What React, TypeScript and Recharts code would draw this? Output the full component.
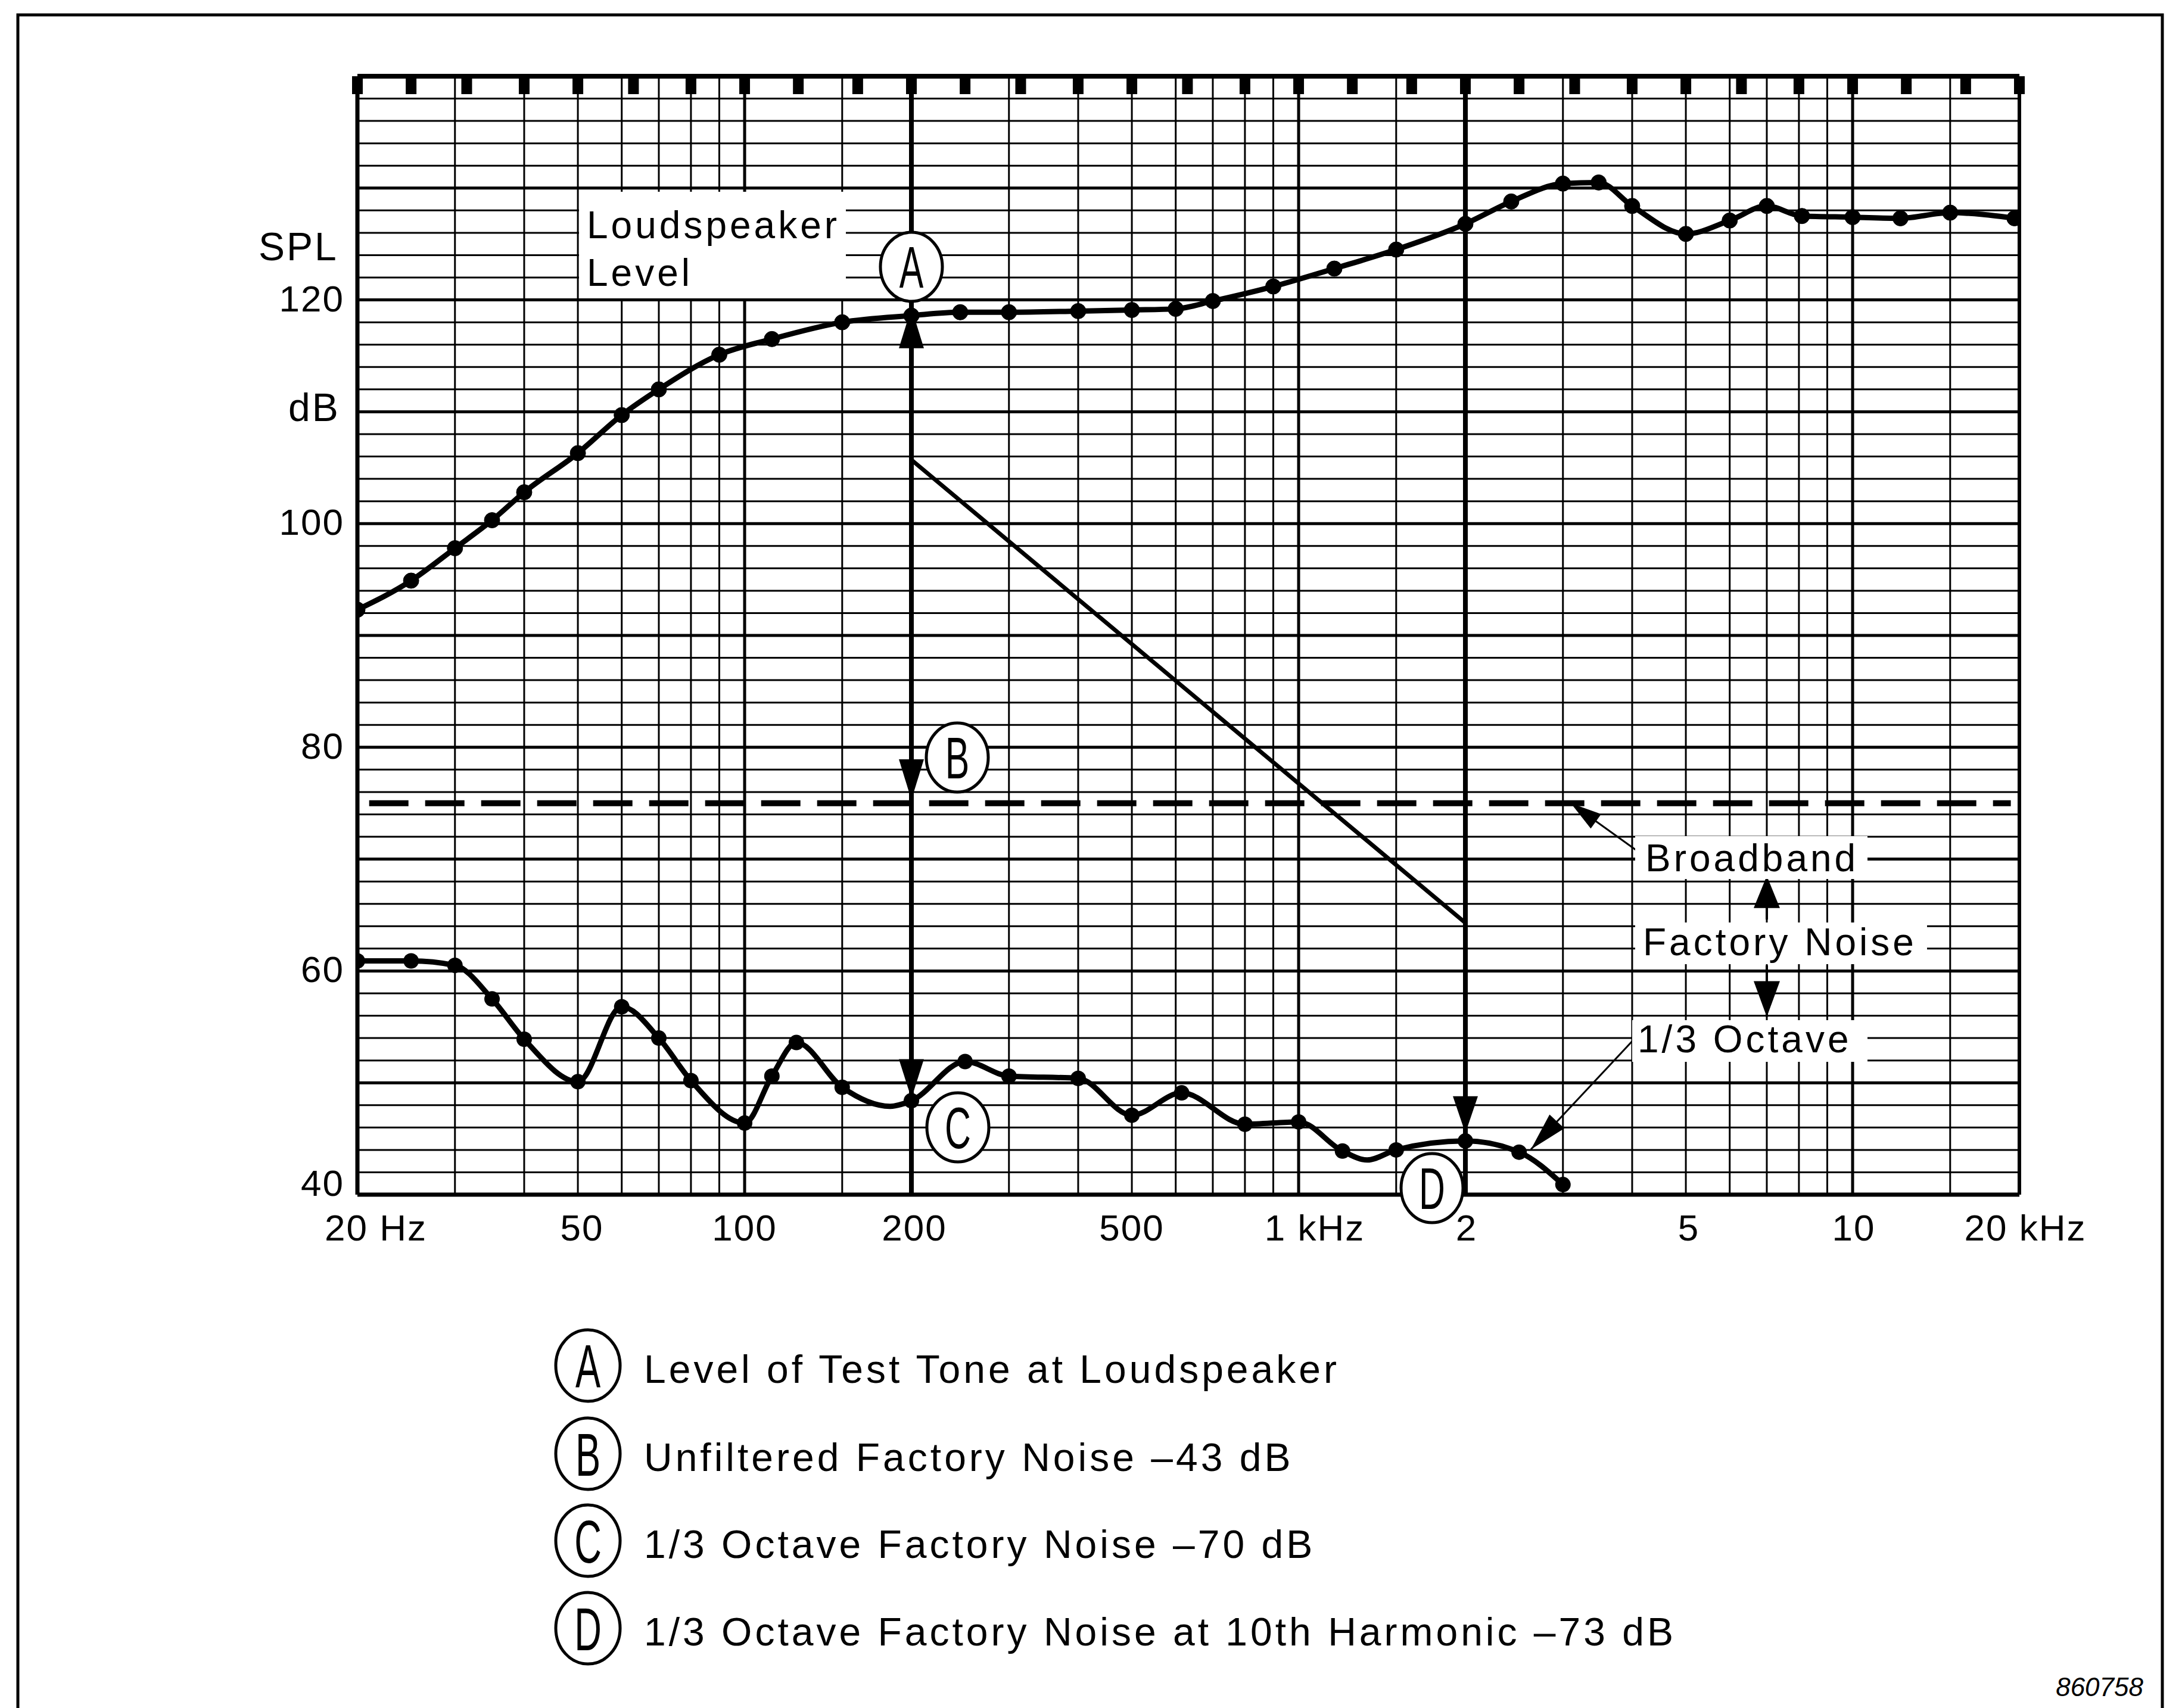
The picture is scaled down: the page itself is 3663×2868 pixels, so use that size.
import React from "react";
import { LineChart, Line, XAxis, YAxis, ReferenceLine } from "recharts";

const W = 3663;
const H = 2868;
const FONT = '"Liberation Sans", Arial, Helvetica, sans-serif';
const INK = "#000";

// loudspeaker level (upper trace), Hz / dB SPL
const speakerFreq = [20, 25, 30, 35, 40, 50, 60, 70, 90, 112, 150, 200, 245, 300, 400, 500, 600, 700, 900, 1160, 1500, 2000, 2420, 3000, 3480, 4000, 5000, 6000, 7000, 8100, 10000, 12200, 15000, 19600];
const speakerLevel = [92.3, 94.9, 97.8, 100.3, 102.8, 106.3, 109.7, 112.0, 115.1, 116.5, 118.0, 118.6, 118.9, 118.9, 119.0, 119.1, 119.2, 119.9, 121.2, 122.8, 124.5, 126.8, 128.8, 130.4, 130.5, 128.4, 125.9, 127.1, 128.4, 127.5, 127.4, 127.3, 127.8, 127.3];

// 1/3 octave factory noise (lower trace); false = bend of the trace with no dot
const noiseFreq = [20, 25, 30, 35, 40, 50, 60, 70, 80, 100, 112, 124, 150, 183, 200, 250, 300, 400, 500, 615, 800, 1000, 1200, 1330, 1500, 2000, 2500, 3000];
const noiseLevel = [60.9, 60.9, 60.5, 57.5, 53.9, 50.1, 56.8, 54.0, 50.2, 46.4, 50.6, 53.6, 49.6, 47.9, 48.4, 51.9, 50.6, 50.4, 47.1, 49.1, 46.3, 46.5, 43.9, 43.1, 44.0, 44.8, 43.8, 40.9];
const noiseMarked = [true, true, true, true, true, true, true, true, true, true, true, true, true, false, true, true, true, true, true, true, true, true, true, false, true, true, true, true];

// broadband factory noise (dashed)
const broadbandLevel = 75;
const broadbandFreq = [21, 19300];

// test tone arrows at 200 Hz: tips at A, B, C
const toneFreq = 200;
const toneTips = [119.3, 75.3, 48.6];

// sloped line to the 10th harmonic, then arrow down to D
const harmonicFreq = [200, 2000];
const harmonicLevel = [105.7, 64.3];
const harmonicTip = 45.5;

// pointer arrows of the side notes: [freq, dB] tail -> tip
const broadbandPointer = [[4120, 70.6], [3100, 75.0]];
const octavePointer = [[4050, 54.0], [2626, 44.05]];
const factoryFreq = 7000;
const factoryUp = [64.6, 68.5];
const factoryDown = [60.5, 55.9];

const xTicks = [20, 50, 100, 200, 500, 1000, 2000, 5000, 10000, 20000];
const xTickLabels = ["20 Hz", "50", "100", "200", "500", "1 kHz", "2", "5", "10", "20 kHz"];
const xTickShift = [31, 7, 0, 5, 0, 27, 2, 5, 2, 10];
const yTicks = [40, 60, 80, 100, 120];

const gridDb = Array.from({ length: 49 }, (_, i) => 42 + i * 2);
const gridFreq = [30, 40, 50, 60, 70, 80, 90, 100, 150, 200, 300, 400, 500, 600, 700, 800, 900, 1000, 1500, 2000, 3000, 4000, 5000, 6000, 7000, 8000, 9000, 10000, 15000];
const thirdOctaves = [20, 25, 31.5, 40, 50, 63, 80, 100, 125, 160, 200, 250, 315, 400, 500, 630, 800, 1000, 1250, 1600, 2000, 2500, 3150, 4000, 5000, 6300, 8000, 10000, 12500, 16000, 20000];

const legendRows = [
  ["A", "Level of Test Tone at Loudspeaker"],
  ["B", "Unfiltered Factory Noise \u201343 dB"],
  ["C", "1/3 Octave Factory Noise \u201370 dB"],
  ["D", "1/3 Octave Factory Noise at 10th Harmonic \u201373 dB"],
];

type ArrowOpts = { width: number; head?: number; half?: number; start?: boolean; end?: boolean };

const arrow = (o: ArrowOpts) => (p: any) => {
  const { x1, y1, x2, y2 } = p;
  const dx = x2 - x1;
  const dy = y2 - y1;
  const len = Math.hypot(dx, dy) || 1;
  const ux = dx / len;
  const uy = dy / len;
  const head = (tx: number, ty: number, sx: number, sy: number) => {
    const bx = tx - sx * (o.head || 0);
    const by = ty - sy * (o.head || 0);
    const nx = -sy * (o.half || 0);
    const ny = sx * (o.half || 0);
    return `${tx},${ty} ${bx + nx},${by + ny} ${bx - nx},${by - ny}`;
  };
  return (
    <g>
      <line x1={x1} y1={y1} x2={x2} y2={y2} stroke={INK} strokeWidth={o.width} />
      {o.end && <polygon points={head(x2, y2, ux, uy)} fill={INK} />}
      {o.start && <polygon points={head(x1, y1, -ux, -uy)} fill={INK} />}
    </g>
  );
};

function XTick(props: any) {
  const { x, payload } = props;
  const i = xTicks.indexOf(payload.value);
  return (
    <text x={x + (xTickShift[i] || 0)} y={2083} textAnchor="middle" fontFamily={FONT} fontSize={62} letterSpacing={2} fill={INK}>
      {xTickLabels[i]}
    </text>
  );
}

function YTick(props: any) {
  const { y, payload } = props;
  const lift = payload.value === yTicks[0] ? 2 : 19;
  return (
    <text x={578} y={y + lift} textAnchor="end" fontFamily={FONT} fontSize={62} letterSpacing={2} fill={INK}>
      {payload.value}
    </text>
  );
}

function Circled({ cx, cy, letter, rx = 52, ry = 58, fs = 98 }: any) {
  return (
    <g>
      <ellipse cx={cx} cy={cy} rx={rx} ry={ry} fill="#fff" stroke={INK} strokeWidth={5} />
      <text transform={`translate(${cx} ${cy + fs * 0.36}) scale(0.62 1)`} textAnchor="middle" fontFamily={FONT} fontSize={fs} fill={INK}>
        {letter}
      </text>
    </g>
  );
}

function Note({ x, y, w, h }: any) {
  return <rect x={x} y={y} width={w} height={h} fill="#fff" />;
}

export default function App() {
  const speakerData = speakerFreq.map((f, i) => ({ f, db: speakerLevel[i] }));
  const noiseData = noiseFreq.map((f, i) => ({ f, db: noiseLevel[i], mark: noiseMarked[i] }));
  const harmonicData = harmonicFreq.map((f, i) => ({ f, db: harmonicLevel[i] }));
  const txt = { fontFamily: FONT, fontSize: 64, letterSpacing: 5, fill: INK };

  return (
    <div style={{ position: "absolute", left: 0, top: 0, width: W, height: H, background: "#fff", overflow: "hidden" }}>
      <LineChart width={W} height={H} margin={{ top: 128, right: 273, bottom: 802, left: 0 }}>
        <XAxis
          type="number"
          dataKey="f"
          scale="log"
          domain={[20, 20000]}
          ticks={xTicks}
          interval={0}
          allowDataOverflow
          axisLine={false}
          tickLine={false}
          height={60}
          tick={(p: any) => <XTick {...p} />}
        />
        <YAxis
          type="number"
          domain={[40, 140]}
          ticks={yTicks}
          interval={0}
          allowDataOverflow
          axisLine={false}
          tickLine={false}
          width={600}
          tick={(p: any) => <YTick {...p} />}
        />

        {gridDb.map((v) => (
          <ReferenceLine key={`h${v}`} y={v} stroke={INK} strokeWidth={v % 10 === 0 ? 5 : 3} />
        ))}
        {gridFreq.map((f) => (
          <ReferenceLine
            key={`v${f}`}
            x={f}
            stroke={INK}
            strokeWidth={f === 200 || f === 2000 ? 8 : f === 100 || f === 1000 || f === 10000 ? 5 : 3}
          />
        ))}
        <ReferenceLine x={20} stroke={INK} strokeWidth={7} />
        <ReferenceLine x={20000} stroke={INK} strokeWidth={6} />
        <ReferenceLine y={40} stroke={INK} strokeWidth={7} />
        <ReferenceLine y={140} stroke={INK} strokeWidth={8} />
        {thirdOctaves.map((f) => (
          <ReferenceLine key={`t${f}`} segment={[{ x: f, y: 140 }, { x: f, y: 138.4 }]} stroke={INK} strokeWidth={18} />
        ))}

        <ReferenceLine
          segment={[{ x: broadbandFreq[0], y: broadbandLevel }, { x: broadbandFreq[1], y: broadbandLevel }]}
          stroke={INK}
          strokeWidth={10}
          strokeDasharray="66 28"
        />

        <ReferenceLine
          segment={[{ x: toneFreq, y: toneTips[1] }, { x: toneFreq, y: toneTips[0] }]}
          shape={arrow({ width: 8, head: 68, half: 21, start: true, end: true })}
        />
        <ReferenceLine
          segment={[{ x: toneFreq, y: toneTips[1] }, { x: toneFreq, y: toneTips[2] }]}
          shape={arrow({ width: 8, head: 66, half: 21, end: true })}
        />
        <ReferenceLine
          segment={[{ x: harmonicFreq[1], y: harmonicLevel[1] }, { x: harmonicFreq[1], y: harmonicTip }]}
          shape={arrow({ width: 8, head: 62, half: 21, end: true })}
        />
        <ReferenceLine
          segment={[{ x: broadbandPointer[0][0], y: broadbandPointer[0][1] }, { x: broadbandPointer[1][0], y: broadbandPointer[1][1] }]}
          shape={arrow({ width: 3, head: 52, half: 15, end: true })}
        />
        <ReferenceLine
          segment={[{ x: octavePointer[0][0], y: octavePointer[0][1] }, { x: octavePointer[1][0], y: octavePointer[1][1] }]}
          shape={arrow({ width: 3, head: 64, half: 17, end: true })}
        />
        <ReferenceLine
          segment={[{ x: factoryFreq, y: factoryUp[0] }, { x: factoryFreq, y: factoryUp[1] }]}
          shape={arrow({ width: 4, head: 54, half: 22, end: true })}
        />
        <ReferenceLine
          segment={[{ x: factoryFreq, y: factoryDown[0] }, { x: factoryFreq, y: factoryDown[1] }]}
          shape={arrow({ width: 4, head: 60, half: 22, end: true })}
        />

        <Line
          data={harmonicData}
          dataKey="db"
          type="linear"
          stroke={INK}
          strokeWidth={7}
          dot={false}
          activeDot={false}
          isAnimationActive={false}
        />
        <Line
          data={speakerData}
          dataKey="db"
          type="monotone"
          stroke={INK}
          strokeWidth={9}
          dot={{ r: 13, fill: INK, stroke: INK, strokeWidth: 1 }}
          activeDot={false}
          isAnimationActive={false}
        />
        <Line
          data={noiseData}
          dataKey="db"
          type="monotone"
          stroke={INK}
          strokeWidth={9}
          dot={(p: any) =>
            p.payload && p.payload.mark ? (
              <circle key={`nd${p.index}`} cx={p.cx} cy={p.cy} r={13} fill={INK} />
            ) : (
              <g key={`nd${p.index}`} />
            )
          }
          activeDot={false}
          isAnimationActive={false}
        />
      </LineChart>

      <svg width={W} height={H} style={{ position: "absolute", left: 0, top: 0, pointerEvents: "none" }}>
        <rect x={30} y={25} width={3600} height={2900} fill="none" stroke={INK} strokeWidth={5} />

        <text x={434} y={437} fontFamily={FONT} fontSize={66} letterSpacing={3} fill={INK}>SPL</text>
        <text x={484} y={707} fontFamily={FONT} fontSize={66} letterSpacing={3} fill={INK}>dB</text>

        <Note x={972} y={322} w={448} h={179} />
        <text x={985} y={400} {...txt}>Loudspeaker</text>
        <text x={985} y={480} {...txt}>Level</text>

        <Note x={2745} y={1404} w={390} h={72} />
        <text x={2762} y={1463} {...txt}>Broadband</text>
        <Note x={2745} y={1549} w={490} h={70} />
        <text x={2758} y={1604} {...txt}>Factory Noise</text>
        <Note x={2740} y={1713} w={395} h={70} />
        <text x={2749} y={1767} {...txt}>1/3 Octave</text>

        <Circled cx={1530} cy={448} letter="A" />
        <Circled cx={1607} cy={1272} letter="B" />
        <Circled cx={1608} cy={1893} letter="C" />
        <Circled cx={2404} cy={1995} letter="D" />

        {legendRows.map(([letter, label], i) => {
          const cy = [2293, 2441, 2587, 2734][i];
          return (
            <g key={letter}>
              <Circled cx={987} cy={cy} letter={letter} rx={54} ry={60} fs={102} />
              <text x={1081} y={cy + 29} fontFamily={FONT} fontSize={66} letterSpacing={5} fill={INK}>
                {label}
              </text>
            </g>
          );
        })}

        <text x={3598} y={2848} textAnchor="end" fontFamily={FONT} fontSize={44} fontStyle="italic" fill={INK}>860758</text>
      </svg>
    </div>
  );
}
